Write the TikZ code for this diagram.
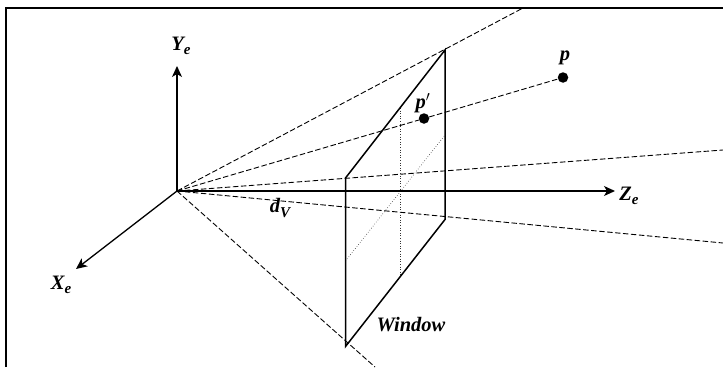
\documentclass[tikz,border=0pt]{standalone}
\usepackage{fontspec}
\usetikzlibrary{arrows.meta}
\setmainfont{Liberation Serif}
\newcommand{\subtxt}[1]{\raisebox{-4.5pt}{\fontsize{15}{17}\selectfont #1}}
\begin{document}
\begin{tikzpicture}[x=1pt,y=-1pt,
  solidline/.style={line width=1.5pt,black},
  axisline/.style={line width=1.3pt,black,-{Stealth[length=11pt,width=10pt,inset=3pt]}},
  dashline/.style={line width=0.9pt,dash pattern=on 5.5pt off 2.5pt,black},
  dotline/.style={line width=0.6pt,dotted,black!80},
  ptdot/.style={circle,fill=black,inner sep=0pt,minimum size=10.5pt},
  lbl/.style={font=\bfseries\itshape\fontsize{20.5}{22}\selectfont,inner sep=0pt,text=black}]
\useasboundingbox (0,0) rectangle (723,367);
\draw[line width=2pt] (6,367) -- (6,7.5) -- (723,7.5);
\coordinate (O) at (177,191);
\coordinate (A) at (345.5,178);
\coordinate (B) at (445,50);
\coordinate (C) at (445,219.5);
\coordinate (D) at (345.5,346.5);
\coordinate (E1) at (523,8);
\coordinate (E2) at (723,150);
\coordinate (E3) at (723,243);
\coordinate (E4) at (375,367);
\coordinate (Ytip) at (177,66);
\coordinate (Ztip) at (615,191);
\coordinate (Xtip) at (76,269);
\coordinate (F1) at (400.5,108);
\coordinate (F2) at (400.5,275);
\coordinate (G1) at (345.5,261);
\coordinate (G2) at (445,135);
\node[ptdot] (p) at (563,77.5) {};
\node[ptdot] (q) at (424,118.5) {};
\draw[dashline] (O) -- (E1);
\draw[dashline] (O) -- (E2);
\draw[dashline] (O) -- (E3);
\draw[dashline] (O) -- (E4);
\draw[dashline] (O) -- (q);
\draw[dashline] (q) -- (p);
\draw[dotline] (F1) -- (F2);
\draw[dotline] (G1) -- (G2);
\draw[solidline] (A) -- (B) -- (C) -- (D) -- cycle;
\draw[axisline] (O) -- (Ytip);
\draw[axisline] (O) -- (Ztip);
\draw[axisline] (O) -- (Xtip);
\node[lbl] (ly) at (181,46) {Y\subtxt{e}};
\node[lbl] (lz) at (629,196) {Z\subtxt{e}};
\node[lbl] (lx) at (61,285) {X\subtxt{e}};
\node[lbl] (ld) at (280,208) {d\subtxt{V}};
\node[lbl] (lw) at (411,325) {Window};
\node[lbl] (lp) at (565,58) {p};
\node[lbl] (lq) at (423,103) {p$'$};
\end{tikzpicture}
\end{document}
